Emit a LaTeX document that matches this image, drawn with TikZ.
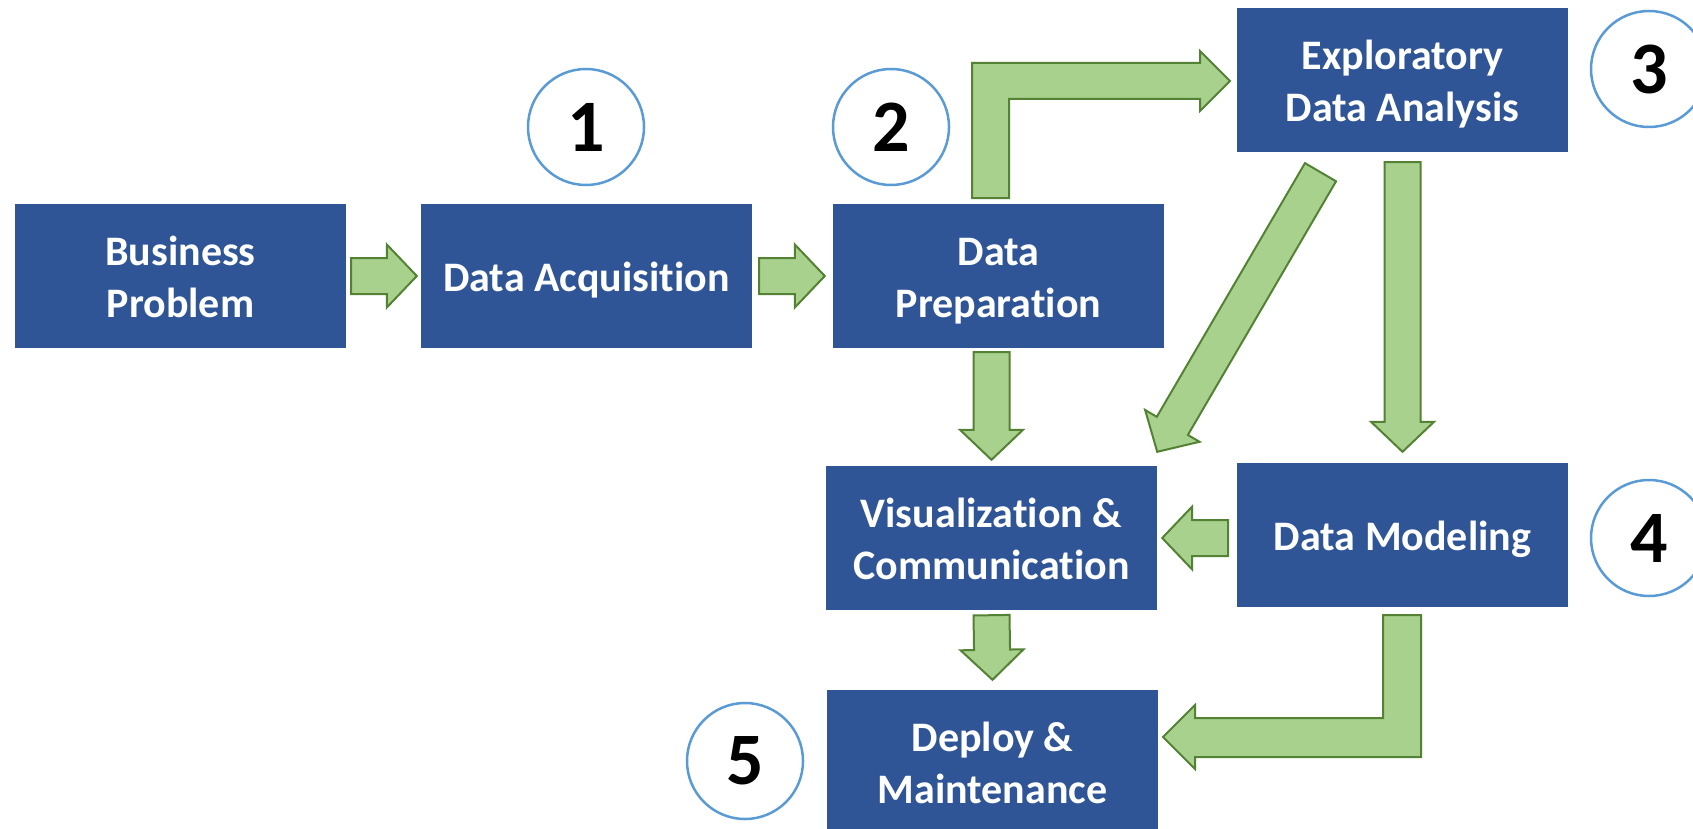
\documentclass[tikz,border=0pt]{standalone}
\usepackage{fontspec}
\setmainfont{Carlito}[Ligatures={NoCommon}]
\usetikzlibrary{calc}
\definecolor{boxblue}{HTML}{2F5597}
\definecolor{arrfill}{HTML}{A9D18E}
\definecolor{arrline}{HTML}{548235}
\definecolor{circline}{HTML}{5B9BD5}
\tikzset{
  stepbox/.style={fill=boxblue, draw=none, text=white, font=\fontsize{42}{52}\selectfont\bfseries, align=center, minimum width=331pt, minimum height=144pt, inner sep=0pt, text height=30.5pt, text depth=0pt},
  twoline/.style={text height=82.5pt},
  numcirc/.style={circle, draw=circline, line width=2.5pt, fill=white, minimum size=116pt, inner sep=0pt, font=\fontsize{74}{74}\selectfont\bfseries},
  blockarr/.style={fill=arrfill, draw=arrline, line width=2pt, line join=miter},
}
\newcommand{\blkarrow}[2]{%
  \coordinate (ba-s) at #1;
  \coordinate (ba-e) at #2;
  \coordinate (ba-h) at ($(ba-e)!30pt!(ba-s)$);
  \draw[blockarr] ($(ba-s)!18pt!90:(ba-e)$) -- ($(ba-h)!18pt!90:(ba-e)$) -- ($(ba-h)!31.5pt!90:(ba-e)$) -- (ba-e) -- ($(ba-h)!31.5pt!-90:(ba-e)$) -- ($(ba-h)!18pt!-90:(ba-e)$) -- ($(ba-s)!18pt!-90:(ba-e)$) -- cycle;
}
\begin{document}
\begin{tikzpicture}[x=1pt, y=-1pt]
\useasboundingbox[fill=white] (0,0) rectangle (1693,829);
% boxes
\node[stepbox, twoline] (bp)  at (180.5,276) {Business\\Problem};
\node[stepbox] (da)  at (586.5,276) {Data Acquisition};
\node[stepbox, twoline] (dp)  at (998.5,276) {Data\\Preparation};
\node[stepbox, twoline] (eda) at (1402.5,80) {Exploratory\\Data Analysis};
\node[stepbox, twoline] (vc)  at (991.5,538) {Visualization \&\\Communication};
\node[stepbox] (dm)  at (1402.5,535) {Data Modeling};
\node[stepbox, twoline] (dep) at (992.5,762) {Deploy \&\\Maintenance};
% numbered circles
\node[numcirc] (n1) at (586,127) {1};
\node[numcirc] (n2) at (891,127) {2};
\node[numcirc] (n3) at (1649,69) {3};
\node[numcirc] (n4) at (1649,538) {4};
\node[numcirc] (n5) at (745,761) {5};
% straight block arrows
\blkarrow{($(bp.east)+(5,0)$)}{($(da.west)+(-4,0)$)}
\blkarrow{($(da.east)+(7,0)$)}{($(dp.west)+(-8,0)$)}
\blkarrow{($(vc.north |- dp.south)+(0,4)$)}{($(vc.north)+(0,-6)$)}
\blkarrow{($(eda.south)+(0,10)$)}{($(dm.north)+(0,-11)$)}
\blkarrow{($(eda.south)+(-82,20)$)}{($(vc.north east)+(0,-14)$)}
\blkarrow{($(vc.east)+(71,0)$)}{($(vc.east)+(5,0)$)}
\blkarrow{($(vc.south)+(0,5)$)}{($(dep.north)+(0,-10)$)}
% bent block arrows
\draw[blockarr] (972,198) -- (972,63) -- (1200,63) -- (1200,51) -- (1230,81) -- (1200,111) -- (1200,99) -- (1009,99) -- (1009,198) -- cycle;
\draw[blockarr] (1383,615) -- (1421,615) -- (1421,757) -- (1195,757) -- (1195,769) -- (1163,737) -- (1195,705) -- (1195,718) -- (1383,718) -- cycle;
\end{tikzpicture}
\end{document}
